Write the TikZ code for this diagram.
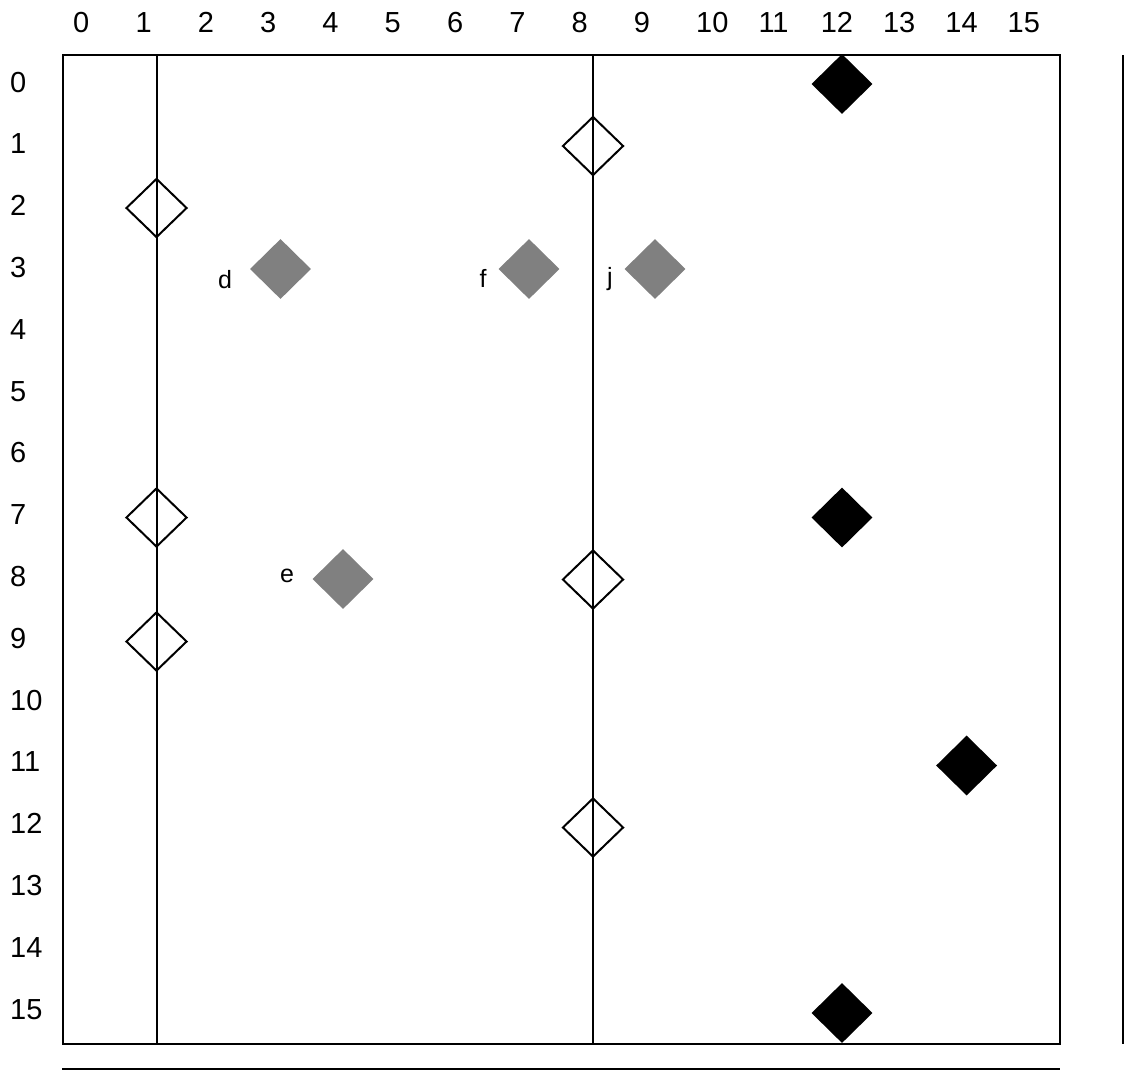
\documentclass[tikz,border=0pt]{standalone}
\usepackage{fontspec}
\setmainfont{Liberation Sans}
\usetikzlibrary{shapes.geometric}
\definecolor{midgray}{RGB}{128,128,128}
\begin{document}
\begin{tikzpicture}[x=1pt,y=-1pt,
  dia/.style={diamond, inner sep=0pt, minimum width=61pt, minimum height=60pt},
  blackdia/.style={dia, fill=black},
  graydia/.style={dia, fill=midgray},
  opendia/.style={dia, draw=black, line width=2pt, minimum width=61pt, minimum height=59pt},
  numlbl/.style={anchor=base west, inner sep=0pt, font=\fontsize{29}{29}\selectfont},
  letlbl/.style={anchor=base, inner sep=0pt, font=\fontsize{25}{25}\selectfont},
  rule/.style={line width=2pt}]
\useasboundingbox (0,0) rectangle (1147,1088);
% column and row numbers
\foreach \c in {0,...,15} {
  \node[numlbl] (col\c) at ({73+62.3*\c}, 32) {\c};
  \node[numlbl] (row\c) at (10, {92+61.8*\c}) {\c};
}
% frame and lines
\coordinate (tl) at (63,55);
\coordinate (br) at (1060,1044);
\draw[rule] (tl) rectangle (br);
\coordinate (v1t) at (156.5,55);
\coordinate (v1b) at (156.5,1044);
\coordinate (v2t) at (593,55);
\coordinate (v2b) at (593,1044);
\coordinate (rt) at (1123,55);
\coordinate (rb) at (1123,1044);
\coordinate (bl) at (62,1069);
\coordinate (br2) at (1060,1069);
\draw[rule] (v1t) -- (v1b);
\draw[rule] (v2t) -- (v2b);
\draw[rule] (rt) -- (rb);
\draw[rule] (bl) -- (br2);
% black diamonds
\node[blackdia] (b1) at (842,84) {};
\node[blackdia] (b2) at (842,517.5) {};
\node[blackdia] (b3) at (966.6,765.5) {};
\node[blackdia] (b4) at (842,1013) {};
% open diamonds
\node[opendia] (o1) at (593,146) {};
\node[opendia] (o2) at (156.5,208) {};
\node[opendia] (o3) at (156.5,517.5) {};
\node[opendia] (o4) at (593,579.5) {};
\node[opendia] (o5) at (156.5,641.5) {};
\node[opendia] (o6) at (593,827.5) {};
% gray diamonds with labels
\node[graydia] (gd) at (280.5,269) {};
\node[graydia] (gf) at (529,269) {};
\node[graydia] (gj) at (655,269) {};
\node[graydia] (ge) at (343,579) {};
\node[letlbl] (ld) at (225,288) {d};
\node[letlbl] (lf) at (483,287) {f};
\node[letlbl] (lj) at (610,285) {j};
\node[letlbl] (le) at (287,582) {e};
\end{tikzpicture}
\end{document}
